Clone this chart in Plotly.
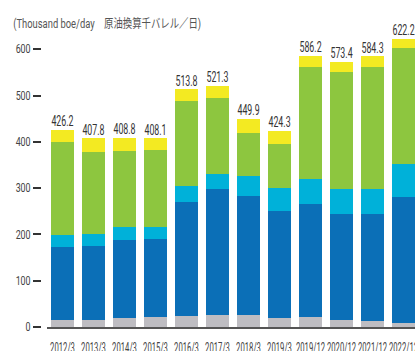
import plotly.graph_objects as go

# Fiscal periods
periods = ["2012/3", "2013/3", "2014/3", "2015/3", "2016/3", "2017/3",
           "2018/3", "2019/3", "2019/12", "2020/12", "2021/12", "2022/12"]

# Production by segment, thousand boe/day (bottom to top of each stack)
seg_gray = [16, 16, 19, 21, 23, 27, 25, 19, 21, 16, 12, 8]
seg_blue = [156, 158, 168, 168, 248, 272, 257, 231, 244, 227, 231, 272]
seg_cyan = [26, 26, 28, 28, 33, 32, 45, 51, 54, 56, 56, 73]
seg_green = [201, 179, 166, 166, 185, 163, 91, 95, 242, 251, 262, 249]

# Reported totals
totals = [426.2, 407.8, 408.8, 408.1, 513.8, 521.3, 449.9, 424.3,
          586.2, 573.4, 584.3, 622.2]

# Top segment fills the remainder up to the reported total
seg_yellow = [round(t - (a + b + c + d), 1) for t, a, b, c, d in
              zip(totals, seg_gray, seg_blue, seg_cyan, seg_green)]

FONT = "Roboto, Noto Sans CJK JP, sans-serif"
TXT = "#444444"

series = [
    (seg_gray, "#bebdc2"),
    (seg_blue, "#0b6fb7"),
    (seg_cyan, "#00b1d9"),
    (seg_green, "#8dc63f"),
    (seg_yellow, "#f3ea22"),
]

fig = go.Figure()
for vals, col in series:
    fig.add_trace(go.Bar(x=periods, y=vals, marker=dict(color=col, line=dict(width=0)),
                         showlegend=False, hoverinfo="skip"))

fig.add_trace(go.Scatter(
    x=periods, y=totals, mode="text",
    text=[f"{t:.1f}" for t in totals], textposition="top center",
    textfont=dict(family=FONT, size=14, color="#333333"),
    showlegend=False, hoverinfo="skip", cliponaxis=False,
))

W, H = 415, 351
left, bottom, top = 41, 24, 20
plot_w = W - left
plot_h = H - bottom - top
px_per_unit = 0.463
ymax = plot_h / px_per_unit

fig.update_layout(
    width=W, height=H,
    margin=dict(l=left, r=0, t=top, b=bottom, autoexpand=False),
    paper_bgcolor="white", plot_bgcolor="white",
    barmode="stack", bargap=0.258,
    font=dict(family=FONT, color=TXT),
    xaxis=dict(
        domain=[6 / plot_w, 1],
        range=[-0.5, 11.37],
        showline=True, linecolor="#555555", linewidth=2,
        ticks="", showgrid=False, zeroline=False,
        tickangle=0,
        tickfont=dict(family=FONT, size=14, color=TXT),
        ticklabelstandoff=7,
        automargin=False,
    ),
    yaxis=dict(
        anchor="free", position=0,
        range=[0, ymax],
        tickvals=[0, 100, 200, 300, 400, 500, 600],
        ticks="outside", ticklen=8, tickwidth=1.5, tickcolor="#333333",
        showline=False, showgrid=False, zeroline=False,
        tickfont=dict(family=FONT, size=12, color=TXT),
        automargin=False,
    ),
    annotations=[dict(
        text="(Thousand boe/day\u3000原油換算千バレル／日)",
        xref="paper", yref="paper",
        x=(106.5 - left) / plot_w, y=(H - bottom - 23) / plot_h,
        xanchor="center", yanchor="middle", showarrow=False,
        font=dict(family=FONT, size=12.5, color="#555555"),
    )],
)

# Narrow the lettering (condensed look) by fitting each text to a shorter length
condense_js = """
var gd = document.getElementById('{plot_id}');
var rules = [['.xtick text', 0.55], ['.ytick text', 0.74],
             ['.textpoint text', 0.63], ['.annotation-text', 0.75]];
rules.forEach(function (r) {
  gd.querySelectorAll(r[0]).forEach(function (t) {
    var w = t.getComputedTextLength();
    if (w > 0) {
      t.setAttribute('textLength', (w * r[1]).toFixed(2));
      t.setAttribute('lengthAdjust', 'spacingAndGlyphs');
    }
  });
});
"""

fig.write_html("out.html", post_script=condense_js)
